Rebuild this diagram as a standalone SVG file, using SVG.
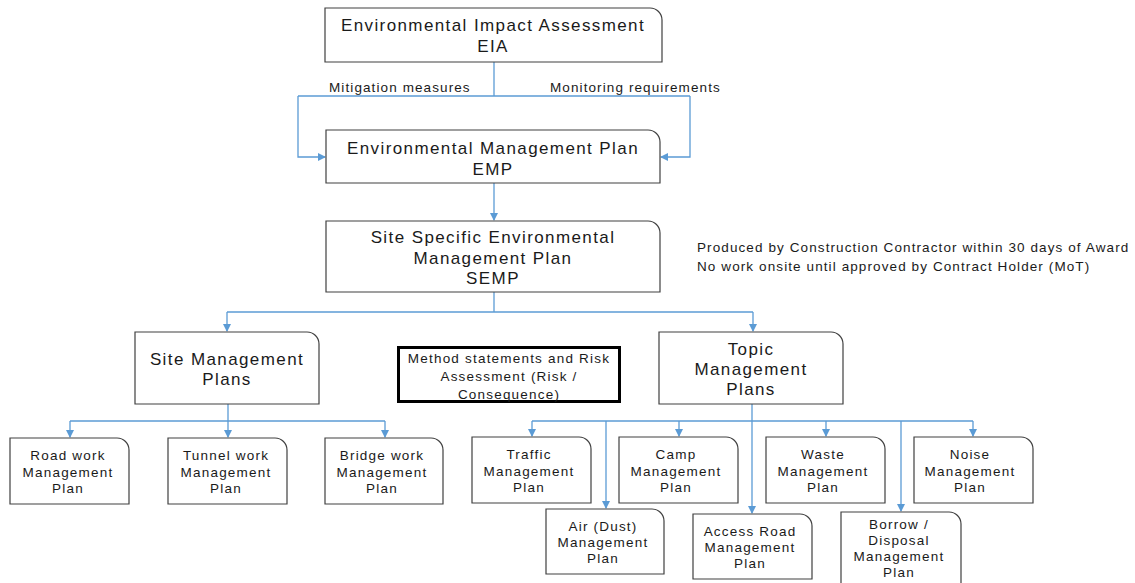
<svg xmlns="http://www.w3.org/2000/svg" width="1135" height="583" viewBox="0 0 1135 583">
  <style>
    .box { fill: #ffffff; stroke: #404040; stroke-width: 1.2; }
    .ms { fill: #ffffff; stroke: #000000; stroke-width: 3; }
    .t { font-family: "Liberation Sans", Arial, sans-serif; fill: #1a1a1a; text-anchor: middle; }
    .big { font-size: 17px; letter-spacing: 1.4px; }
    .sm { font-size: 13.5px; letter-spacing: 1.2px; }
    .note { font-family: "Liberation Sans", Arial, sans-serif; font-size: 13.5px; letter-spacing: 1.1px; fill: #1a1a1a; }
    .conn { fill: none; stroke: #5b9bd5; stroke-width: 1.3; }
  </style>
  <defs>
    <marker id="arr" markerWidth="8" markerHeight="8" refX="7" refY="4" orient="auto" markerUnits="userSpaceOnUse">
      <path d="M0,0 L8,4 L0,8 Z" fill="#5b9bd5"/>
    </marker>
  </defs>

  <rect width="1135" height="583" fill="#ffffff"/>

  <!-- connectors -->
  <g id="connectors" class="conn">
    <path d="M494,62 V96"/>
    <path d="M298,96 H690"/>
    <path d="M298,96 V157 H325" marker-end="url(#arr)"/>
    <path d="M690,96 V157 H661" marker-end="url(#arr)"/>
    <path d="M494,183 V220" marker-end="url(#arr)"/>
    <path d="M494,292 V312"/>
    <path d="M227,312 H753"/>
    <path d="M227,312 V331" marker-end="url(#arr)"/>
    <path d="M753,312 V331" marker-end="url(#arr)"/>
    <path d="M228,404 V421"/>
    <path d="M70,421 H385"/>
    <path d="M70,421 V437" marker-end="url(#arr)"/>
    <path d="M228,421 V437" marker-end="url(#arr)"/>
    <path d="M385,421 V437" marker-end="url(#arr)"/>
    <path d="M752,404 V421"/>
    <path d="M532,421 H973"/>
    <path d="M532,421 V436" marker-end="url(#arr)"/>
    <path d="M679,421 V436" marker-end="url(#arr)"/>
    <path d="M826,421 V436" marker-end="url(#arr)"/>
    <path d="M973,421 V436" marker-end="url(#arr)"/>
    <path d="M606,421 V508" marker-end="url(#arr)"/>
    <path d="M752,421 V513" marker-end="url(#arr)"/>
    <path d="M901,421 V511" marker-end="url(#arr)"/>
  </g>

  <!-- labels on connectors -->
  <text class="note" x="329" y="92">Mitigation measures</text>
  <text class="note" x="550" y="92">Monitoring requirements</text>

  <g id="eia">
    <path class="box" d="M325,8 H650 A12,12 0 0 1 662,20 V62 H325 Z"/>
    <text class="t big" x="493" y="31">Environmental Impact Assessment</text>
    <text class="t big" x="493" y="52">EIA</text>
  </g>

  <g id="emp">
    <path class="box" d="M326,130 H648 A12,12 0 0 1 660,142 V183 H326 Z"/>
    <text class="t big" x="493" y="154">Environmental Management Plan</text>
    <text class="t big" x="493" y="175">EMP</text>
  </g>

  <g id="semp">
    <path class="box" d="M326,221 H648 A12,12 0 0 1 660,233 V292 H326 Z"/>
    <text class="t big" x="493" y="243">Site Specific Environmental</text>
    <text class="t big" x="493" y="264">Management Plan</text>
    <text class="t big" x="493" y="284">SEMP</text>
  </g>

  <g id="semp-note">
    <text class="note" x="697" y="252">Produced by Construction Contractor within 30 days of Award</text>
    <text class="note" x="697" y="271">No work onsite until approved by Contract Holder (MoT)</text>
  </g>

  <g id="site-plans">
    <path class="box" d="M135,332 H307 A12,12 0 0 1 319,344 V404 H135 Z"/>
    <text class="t big" x="227" y="365">Site Management</text>
    <text class="t big" x="227" y="385">Plans</text>
  </g>

  <g id="method-statements">
    <rect class="ms" x="398.5" y="347.5" width="221" height="54"/>
    <text class="t sm" x="509" y="363">Method statements and Risk</text>
    <text class="t sm" x="509" y="381">Assessment (Risk /</text>
    <text class="t sm" x="509" y="399">Consequence)</text>
  </g>

  <g id="topic-plans">
    <path class="box" d="M659,332 H831 A12,12 0 0 1 843,344 V404 H659 Z"/>
    <text class="t big" x="751" y="355">Topic</text>
    <text class="t big" x="751" y="375">Management</text>
    <text class="t big" x="751" y="395">Plans</text>
  </g>

  <g id="road-work">
    <path class="box" d="M10,438 H117 A12,12 0 0 1 129,450 V504 H10 Z"/>
    <text class="t sm" x="68" y="460">Road work</text>
    <text class="t sm" x="68" y="477">Management</text>
    <text class="t sm" x="68" y="493">Plan</text>
  </g>

  <g id="tunnel-work">
    <path class="box" d="M168,438 H275 A12,12 0 0 1 287,450 V504 H168 Z"/>
    <text class="t sm" x="226" y="460">Tunnel work</text>
    <text class="t sm" x="226" y="477">Management</text>
    <text class="t sm" x="226" y="493">Plan</text>
  </g>

  <g id="bridge-work">
    <path class="box" d="M325,438 H431 A12,12 0 0 1 443,450 V504 H325 Z"/>
    <text class="t sm" x="382" y="460">Bridge work</text>
    <text class="t sm" x="382" y="477">Management</text>
    <text class="t sm" x="382" y="493">Plan</text>
  </g>

  <g id="traffic">
    <path class="box" d="M472,437 H579 A12,12 0 0 1 591,449 V503 H472 Z"/>
    <text class="t sm" x="529" y="459">Traffic</text>
    <text class="t sm" x="529" y="476">Management</text>
    <text class="t sm" x="529" y="492">Plan</text>
  </g>

  <g id="camp">
    <path class="box" d="M619,437 H726 A12,12 0 0 1 738,449 V503 H619 Z"/>
    <text class="t sm" x="676" y="459">Camp</text>
    <text class="t sm" x="676" y="476">Management</text>
    <text class="t sm" x="676" y="492">Plan</text>
  </g>

  <g id="waste">
    <path class="box" d="M766,437 H873 A12,12 0 0 1 885,449 V503 H766 Z"/>
    <text class="t sm" x="823" y="459">Waste</text>
    <text class="t sm" x="823" y="476">Management</text>
    <text class="t sm" x="823" y="492">Plan</text>
  </g>

  <g id="noise">
    <path class="box" d="M914,437 H1021 A12,12 0 0 1 1033,449 V503 H914 Z"/>
    <text class="t sm" x="970" y="459">Noise</text>
    <text class="t sm" x="970" y="476">Management</text>
    <text class="t sm" x="970" y="492">Plan</text>
  </g>

  <g id="air-dust">
    <path class="box" d="M546,509 H652 A12,12 0 0 1 664,521 V574 H546 Z"/>
    <text class="t sm" x="603" y="531">Air (Dust)</text>
    <text class="t sm" x="603" y="547">Management</text>
    <text class="t sm" x="603" y="563">Plan</text>
  </g>

  <g id="access-road">
    <path class="box" d="M693,514 H800 A12,12 0 0 1 812,526 V579 H693 Z"/>
    <text class="t sm" x="750" y="536">Access Road</text>
    <text class="t sm" x="750" y="552">Management</text>
    <text class="t sm" x="750" y="568">Plan</text>
  </g>

  <g id="borrow-disposal">
    <path class="box" d="M841,512 H949 A12,12 0 0 1 961,524 V590 H841 Z"/>
    <text class="t sm" x="899" y="529">Borrow /</text>
    <text class="t sm" x="899" y="545">Disposal</text>
    <text class="t sm" x="899" y="561">Management</text>
    <text class="t sm" x="899" y="577">Plan</text>
  </g>
</svg>
